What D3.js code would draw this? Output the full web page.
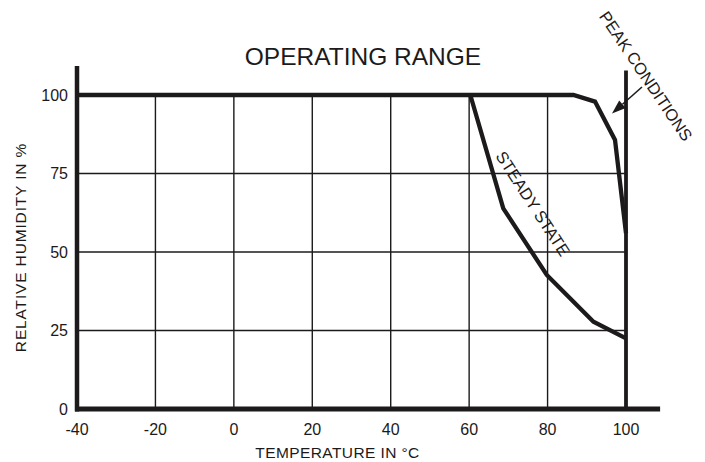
<!DOCTYPE html>
<html>
<head>
<meta charset="utf-8">
<script src="https://cdn.jsdelivr.net/npm/d3@7"></script>
<style>
  html, body { margin: 0; padding: 0; background: #fff; }
  svg { display: block; font-family: "Liberation Sans", Arial, Helvetica, sans-serif; }
</style>
</head>
<body>
<svg id="chart" width="705" height="462"></svg>
<script>
// ---- data ----
const xTicks = [-40, -20, 0, 20, 40, 60, 80, 100];
const yTicks = [0, 25, 50, 75, 100];
const peakTemp = [-40, 86.6, 92.1, 97.2, 100];
const peakRH   = [100, 100, 97.9, 85.7, 56];
const steadyTemp = [60.3, 68.7, 79.8, 91.7, 100];
const steadyRH   = [100, 63.9, 42.7, 27.8, 22.5];
const titleText = "OPERATING RANGE";
const xTitle = "TEMPERATURE IN °C";
const yTitle = "RELATIVE HUMIDITY IN %";
const peakLabel = "PEAK CONDITIONS";
const steadyLabel = "STEADY STATE";

const ink = "#1c1a1a";
const svg = d3.select("#chart");
const x = d3.scaleLinear().domain([-40, 100]).range([77, 626]);
const y = d3.scaleLinear().domain([0, 100]).range([409, 95]);
const xMax = 108.7, yMax = 109.2;

// grid: vertical lines
svg.append("g").selectAll("line")
  .data(xTicks.filter(d => d > -40 && d < 100))
  .join("line")
  .attr("x1", d => x(d)).attr("x2", d => x(d))
  .attr("y1", y(100)).attr("y2", y(0))
  .attr("stroke", ink).attr("stroke-width", 1.4);

// grid: horizontal lines
svg.append("g").selectAll("line")
  .data(yTicks.filter(d => d > 0 && d < 100))
  .join("line")
  .attr("x1", x(-40)).attr("x2", x(100))
  .attr("y1", d => y(d)).attr("y2", d => y(d))
  .attr("stroke", ink).attr("stroke-width", 1.4);

// vertical limit at 100 °C
svg.append("line")
  .attr("x1", x(100)).attr("x2", x(100))
  .attr("y1", y(107.8)).attr("y2", y(0))
  .attr("stroke", ink).attr("stroke-width", 3.8);

// axes (thick lines)
svg.append("line")
  .attr("x1", x(-40)).attr("x2", x(-40))
  .attr("y1", y(yMax)).attr("y2", y(0) + 2.5)
  .attr("stroke", ink).attr("stroke-width", 4.5);
svg.append("line")
  .attr("x1", x(-40) - 2).attr("x2", x(xMax))
  .attr("y1", y(0)).attr("y2", y(0))
  .attr("stroke", ink).attr("stroke-width", 5);

// curves
const line = d3.line().x(d => x(d[0])).y(d => y(d[1])).curve(d3.curveLinear);
svg.append("path")
  .datum(peakTemp.map((t, i) => [t, peakRH[i]]))
  .attr("d", line).attr("fill", "none")
  .attr("stroke", ink).attr("stroke-width", 4.3).attr("stroke-linejoin", "miter");
svg.append("path")
  .datum(steadyTemp.map((t, i) => [t, steadyRH[i]]))
  .attr("d", line).attr("fill", "none")
  .attr("stroke", ink).attr("stroke-width", 4.3).attr("stroke-linejoin", "miter");

// tick labels
svg.append("g").selectAll("text")
  .data(xTicks).join("text")
  .attr("x", d => x(d)).attr("y", 435)
  .attr("text-anchor", "middle")
  .attr("font-size", 16).attr("fill", ink)
  .text(d => d);
svg.append("g").selectAll("text")
  .data(yTicks).join("text")
  .attr("x", 68).attr("y", d => y(d))
  .attr("dy", "0.36em")
  .attr("text-anchor", "end")
  .attr("font-size", 16).attr("fill", ink)
  .text(d => d);

// titles
svg.append("text")
  .attr("x", 363).attr("y", 65)
  .attr("text-anchor", "middle")
  .attr("font-size", 24.5).attr("fill", ink)
  .text(titleText);
svg.append("text")
  .attr("x", 337.5).attr("y", 458)
  .attr("text-anchor", "middle")
  .attr("font-size", 15.5).attr("letter-spacing", 0.4).attr("fill", ink)
  .text(xTitle);
svg.append("text")
  .attr("transform", "translate(26,247.5) rotate(-90)")
  .attr("text-anchor", "middle")
  .attr("font-size", 15.5).attr("letter-spacing", 0.85).attr("fill", ink)
  .text(yTitle);

// rotated curve labels
svg.append("text")
  .attr("transform", "translate(533,203.5) rotate(57)")
  .attr("text-anchor", "middle").attr("dominant-baseline", "central")
  .attr("font-size", 16.5).attr("fill", ink)
  .text(steadyLabel);
svg.append("text")
  .attr("transform", "translate(646,76) rotate(56)")
  .attr("text-anchor", "middle").attr("dominant-baseline", "central")
  .attr("font-size", 16.5).attr("fill", ink)
  .text(peakLabel);

// arrow
const ax1 = 642, ay1 = 87, ax2 = 612, ay2 = 113.5;
const ang = Math.atan2(ay2 - ay1, ax2 - ax1);
const headLen = 14, headW = 5;
const bx = ax2 - headLen * Math.cos(ang), by = ay2 - headLen * Math.sin(ang);
svg.append("line")
  .attr("x1", ax1).attr("y1", ay1).attr("x2", bx).attr("y2", by)
  .attr("stroke", ink).attr("stroke-width", 1.6);
svg.append("path")
  .attr("d", `M${ax2},${ay2} L${bx + headW * Math.sin(ang)},${by - headW * Math.cos(ang)} L${bx - headW * Math.sin(ang)},${by + headW * Math.cos(ang)} Z`)
  .attr("fill", ink);
</script>
</body>
</html>
